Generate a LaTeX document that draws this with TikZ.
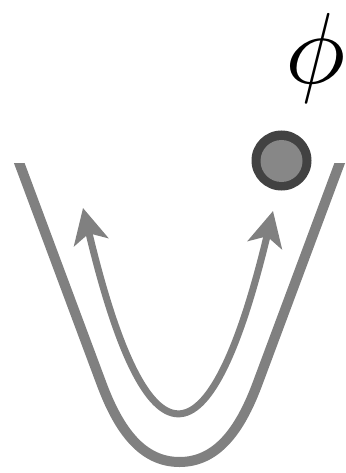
\documentclass[tikz,border=0pt]{standalone}
\usetikzlibrary{arrows.meta}
\definecolor{wellgray}{HTML}{808080}
\definecolor{balldark}{HTML}{424242}
\definecolor{balllight}{HTML}{878787}
\tikzset{
  well/.style={draw=wellgray, line width=10pt, line join=round},
  motion/.style={draw=wellgray, line width=7pt,
    {Stealth[length=35pt,width=35pt,inset=9pt]}-{Stealth[length=35pt,width=35pt,inset=9pt]}},
  ballouter/.style={circle, fill=balldark, minimum size=60pt, inner sep=0pt},
  ballinner/.style={circle, fill=balllight, minimum size=42pt, inner sep=0pt}
}
\begin{document}
\begin{tikzpicture}[x=1pt,y=-1pt]
\useasboundingbox (0,0) rectangle (345,473);
% potential well
\begin{scope}
  \clip (0,163) rectangle (345,473);
  \draw[well] (14.4,150) -- (102,385)
    .. controls (119,430) and (142,462) .. (179.5,462)
    .. controls (217,462) and (240,430) .. (257,385) -- (344.6,150);
\end{scope}
% oscillation arrow
\coordinate (lt) at (83,208);
\coordinate (rt) at (273,211);
\coordinate (c1) at (146.3,473.7);
\coordinate (c2) at (209.7,474.7);
\draw[motion] (lt) .. controls (c1) and (c2) .. (rt);
% ball
\node[ballouter] (ball) at (281.5,160.5) {};
\node[ballinner] (core) at (281.5,161) {};
% label
\node[inner sep=0pt, scale=10.1] (phi) at (316,58) {$\phi$};
\end{tikzpicture}
\end{document}
